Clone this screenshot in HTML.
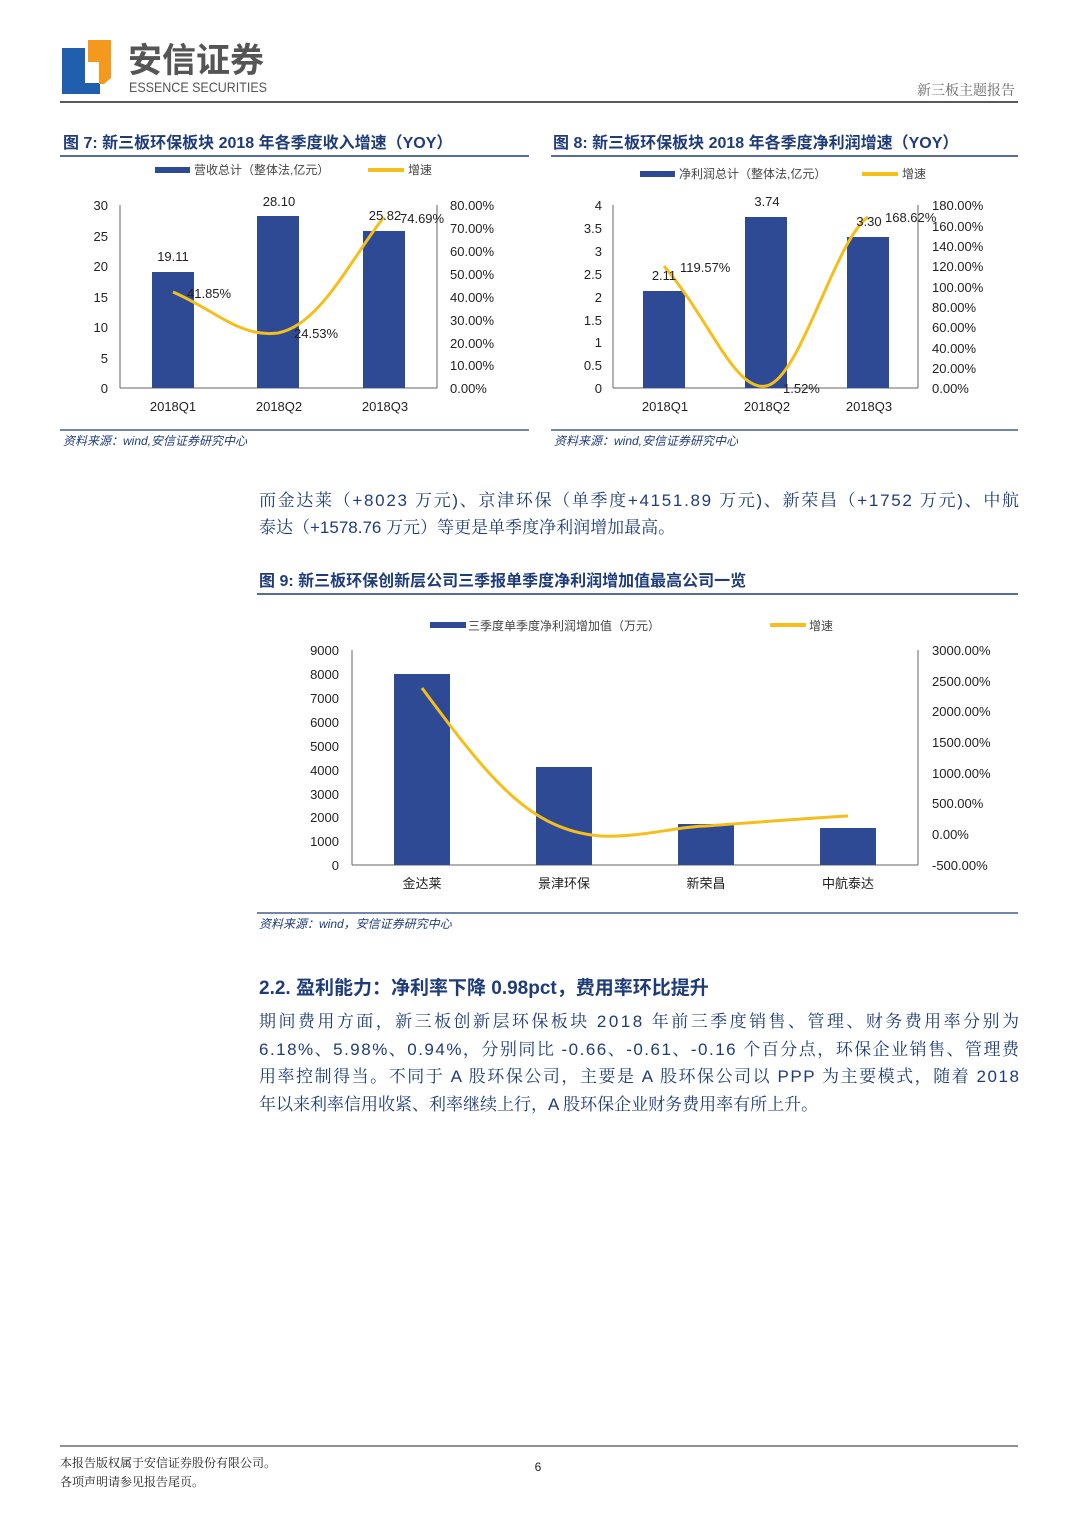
<!DOCTYPE html>
<html><head><meta charset="utf-8"><style>
body{margin:0;background:#fff;}
svg text{font-family:"Liberation Sans","Noto Sans CJK SC",sans-serif;}
.s{font-family:"Liberation Sans","Noto Serif CJK SC",serif !important;}
</style></head><body>
<svg width="1080" height="1527" viewBox="0 0 1080 1527" xmlns="http://www.w3.org/2000/svg">
<polygon points="62,48 85,48 85,83 100,83 100,94 62,94" fill="#1f5fae"/>
<polygon points="88,40 111,40 111,78 104,84 99,84 99,62 88,62" fill="#f39a1e"/>
<text x="128" y="72" font-size="34" fill="#555" font-weight="bold">安信证券</text>
<text x="129" y="92" font-size="14" fill="#555" textLength="138" lengthAdjust="spacingAndGlyphs">ESSENCE SECURITIES</text>
<line x1="60" y1="102" x2="1018" y2="102" stroke="#222" stroke-width="1.5"/>
<text x="1015" y="95" font-size="14" fill="#666" text-anchor="end" class="s">新三板主题报告</text>

<text x="63" y="148" font-size="16" fill="#1f3c7a" font-weight="bold">图 7:  新三板环保板块 2018 年各季度收入增速（YOY）</text>
<line x1="60" y1="156" x2="529" y2="156" stroke="#1f3c7a" stroke-width="1.5"/>
<text x="553" y="148" font-size="16" fill="#1f3c7a" font-weight="bold">图 8:  新三板环保板块 2018 年各季度净利润增速（YOY）</text>
<line x1="551" y1="156" x2="1018" y2="156" stroke="#1f3c7a" stroke-width="1.5"/>

<rect x="155" y="167" width="35" height="6" fill="#2e4a94"/>
<text x="194" y="174" font-size="12" fill="#444">营收总计（整体法,亿元）</text>
<rect x="368" y="168" width="36" height="4" fill="#f5be1a"/>
<text x="408" y="174" font-size="12" fill="#444">增速</text>
<g font-size="13" fill="#222">
<line x1="120" y1="205" x2="120" y2="388" stroke="#666"/>
<line x1="120" y1="388" x2="437" y2="388" stroke="#666"/>
<line x1="437" y1="205" x2="437" y2="388" stroke="#666"/>
<text x="108" y="210" text-anchor="end">30</text><text x="108" y="241" text-anchor="end">25</text>
<text x="108" y="271" text-anchor="end">20</text><text x="108" y="302" text-anchor="end">15</text>
<text x="108" y="332" text-anchor="end">10</text><text x="108" y="363" text-anchor="end">5</text>
<text x="108" y="393" text-anchor="end">0</text>
<text x="450" y="210">80.00%</text><text x="450" y="233">70.00%</text><text x="450" y="256">60.00%</text>
<text x="450" y="279">50.00%</text><text x="450" y="302">40.00%</text><text x="450" y="325">30.00%</text>
<text x="450" y="348">20.00%</text><text x="450" y="370">10.00%</text><text x="450" y="393">0.00%</text>
<rect x="152" y="272" width="42" height="116" fill="#2e4a94"/>
<rect x="257" y="216" width="42" height="172" fill="#2e4a94"/>
<rect x="363" y="231" width="42" height="157" fill="#2e4a94"/>
<path d="M173,292 C215,310 240,338 278,333 C320,325 350,260 384,217" fill="none" stroke="#f5be1a" stroke-width="3"/>
<text x="173" y="261" text-anchor="middle">19.11</text>
<text x="279" y="206" text-anchor="middle">28.10</text>
<text x="385" y="220" text-anchor="middle">25.82</text>
<text x="187" y="298">41.85%</text>
<text x="294" y="338">24.53%</text>
<text x="400" y="223">74.69%</text>
<text x="173" y="411" text-anchor="middle">2018Q1</text>
<text x="279" y="411" text-anchor="middle">2018Q2</text>
<text x="385" y="411" text-anchor="middle">2018Q3</text>
</g>

<rect x="640" y="171" width="35" height="6" fill="#2e4a94"/>
<text x="679" y="178" font-size="12" fill="#444">净利润总计（整体法,亿元）</text>
<rect x="862" y="172" width="36" height="4" fill="#f5be1a"/>
<text x="902" y="178" font-size="12" fill="#444">增速</text>
<g font-size="13" fill="#222">
<line x1="613" y1="205" x2="613" y2="388" stroke="#666"/>
<line x1="613" y1="388" x2="918" y2="388" stroke="#666"/>
<line x1="918" y1="205" x2="918" y2="388" stroke="#666"/>
<text x="602" y="210" text-anchor="end">4</text><text x="602" y="233" text-anchor="end">3.5</text>
<text x="602" y="256" text-anchor="end">3</text><text x="602" y="279" text-anchor="end">2.5</text>
<text x="602" y="302" text-anchor="end">2</text><text x="602" y="325" text-anchor="end">1.5</text>
<text x="602" y="347" text-anchor="end">1</text><text x="602" y="370" text-anchor="end">0.5</text>
<text x="602" y="393" text-anchor="end">0</text>
<text x="932" y="210">180.00%</text><text x="932" y="231">160.00%</text><text x="932" y="251">140.00%</text>
<text x="932" y="271">120.00%</text><text x="932" y="292">100.00%</text><text x="932" y="312">80.00%</text>
<text x="932" y="332">60.00%</text><text x="932" y="353">40.00%</text><text x="932" y="373">20.00%</text>
<text x="932" y="393">0.00%</text>
<rect x="643" y="291" width="42" height="97" fill="#2e4a94"/>
<rect x="745" y="217" width="42" height="171" fill="#2e4a94"/>
<rect x="847" y="237" width="42" height="151" fill="#2e4a94"/>
<path d="M664,266 C710,320 735,392 766,386 C800,380 835,240 868,217" fill="none" stroke="#f5be1a" stroke-width="3"/>
<text x="664" y="280" text-anchor="middle">2.11</text>
<text x="767" y="206" text-anchor="middle">3.74</text>
<text x="869" y="226" text-anchor="middle">3.30</text>
<text x="680" y="272">119.57%</text>
<text x="783" y="393">1.52%</text>
<text x="885" y="222">168.62%</text>
<text x="665" y="411" text-anchor="middle">2018Q1</text>
<text x="767" y="411" text-anchor="middle">2018Q2</text>
<text x="869" y="411" text-anchor="middle">2018Q3</text>
</g>
<line x1="60" y1="430" x2="529" y2="430" stroke="#1f3c7a" stroke-width="1.2"/>
<line x1="551" y1="430" x2="1018" y2="430" stroke="#1f3c7a" stroke-width="1.2"/>
<text x="63" y="445" font-size="12" fill="#1f3c7a" font-style="italic">资料来源：wind,安信证券研究中心</text>
<text x="554" y="445" font-size="12" fill="#1f3c7a" font-style="italic">资料来源：wind,安信证券研究中心</text>

<g font-size="17" fill="#1f3c7a">
<text x="259" y="506" class="s" textLength="760" lengthAdjust="spacing">而金达莱（+8023 万元)、京津环保（单季度+4151.89 万元)、新荣昌（+1752 万元)、中航</text>
<text x="259" y="533" class="s">泰达（+1578.76 万元）等更是单季度净利润增加最高。</text>
</g>
<text x="259" y="586" font-size="16" fill="#1f3c7a" font-weight="bold">图 9:  新三板环保创新层公司三季报单季度净利润增加值最高公司一览</text>
<line x1="257" y1="594" x2="1018" y2="594" stroke="#1f3c7a" stroke-width="1.5"/>

<rect x="430" y="622" width="36" height="6" fill="#2e4a94"/>
<text x="468" y="630" font-size="12" fill="#444">三季度单季度净利润增加值（万元）</text>
<rect x="770" y="623" width="36" height="4" fill="#f5be1a"/>
<text x="809" y="630" font-size="12" fill="#444">增速</text>
<g font-size="13" fill="#222">
<line x1="352" y1="650" x2="352" y2="865" stroke="#666"/>
<line x1="352" y1="865" x2="918" y2="865" stroke="#666"/>
<line x1="918" y1="650" x2="918" y2="865" stroke="#666"/>
<text x="339" y="655" text-anchor="end">9000</text><text x="339" y="679" text-anchor="end">8000</text>
<text x="339" y="703" text-anchor="end">7000</text><text x="339" y="727" text-anchor="end">6000</text>
<text x="339" y="751" text-anchor="end">5000</text><text x="339" y="775" text-anchor="end">4000</text>
<text x="339" y="799" text-anchor="end">3000</text><text x="339" y="822" text-anchor="end">2000</text>
<text x="339" y="846" text-anchor="end">1000</text><text x="339" y="870" text-anchor="end">0</text>
<text x="932" y="655">3000.00%</text><text x="932" y="686">2500.00%</text><text x="932" y="716">2000.00%</text>
<text x="932" y="747">1500.00%</text><text x="932" y="778">1000.00%</text><text x="932" y="808">500.00%</text>
<text x="932" y="839">0.00%</text><text x="932" y="870">-500.00%</text>
<rect x="394" y="674" width="56" height="191" fill="#2e4a94"/>
<rect x="536" y="767" width="56" height="98" fill="#2e4a94"/>
<rect x="678" y="824" width="56" height="41" fill="#2e4a94"/>
<rect x="820" y="828" width="56" height="37" fill="#2e4a94"/>
<path d="M422,688 C490,780 530,830 600,836 C640,838 680,826 706,826 C760,822 810,818 848,816" fill="none" stroke="#f5be1a" stroke-width="3"/>
<text x="422" y="888" text-anchor="middle" font-size="13">金达莱</text>
<text x="564" y="888" text-anchor="middle" font-size="13">景津环保</text>
<text x="706" y="888" text-anchor="middle" font-size="13">新荣昌</text>
<text x="848" y="888" text-anchor="middle" font-size="13">中航泰达</text>
</g>
<line x1="257" y1="913" x2="1018" y2="913" stroke="#1f3c7a" stroke-width="1.2"/>
<text x="259" y="928" font-size="12" fill="#1f3c7a" font-style="italic">资料来源：wind，安信证券研究中心</text>

<text x="259" y="994" font-size="19" fill="#1f3c7a" font-weight="bold">2.2. 盈利能力：净利率下降 0.98pct，费用率环比提升</text>
<g font-size="17" fill="#1f3c7a">
<text x="259" y="1027" class="s" textLength="760" lengthAdjust="spacing">期间费用方面，新三板创新层环保板块 2018 年前三季度销售、管理、财务费用率分别为</text>
<text x="259" y="1055" class="s" textLength="760" lengthAdjust="spacing">6.18%、5.98%、0.94%，分别同比 -0.66、-0.61、-0.16 个百分点，环保企业销售、管理费</text>
<text x="259" y="1082" class="s" textLength="760" lengthAdjust="spacing">用率控制得当。不同于 A 股环保公司，主要是 A 股环保公司以 PPP 为主要模式，随着 2018</text>
<text x="259" y="1110" class="s">年以来利率信用收紧、利率继续上行，A 股环保企业财务费用率有所上升。</text>
</g>

<line x1="60" y1="1446" x2="1018" y2="1446" stroke="#222" stroke-width="1"/>
<text x="60" y="1467" font-size="12" fill="#222" class="s">本报告版权属于安信证券股份有限公司。</text>
<text x="60" y="1486" font-size="12" fill="#222" class="s">各项声明请参见报告尾页。</text>
<text x="538" y="1471" font-size="12" fill="#222" text-anchor="middle">6</text>
</svg>
</body></html>
